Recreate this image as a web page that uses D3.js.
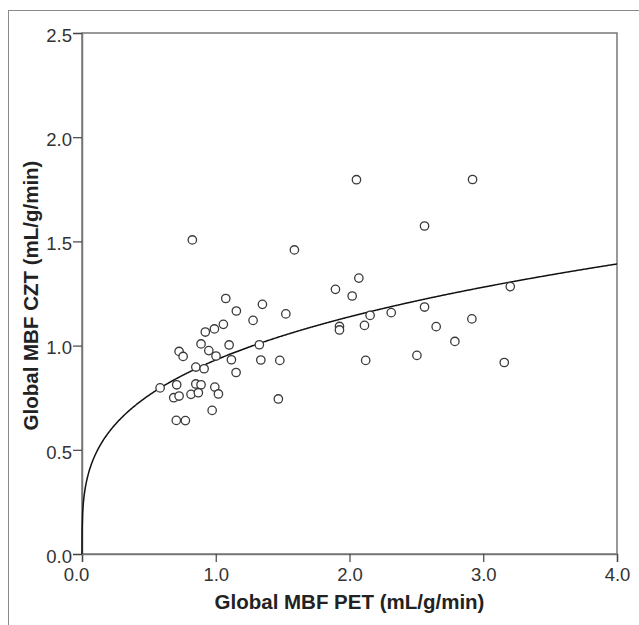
<!DOCTYPE html>
<html>
<head>
<meta charset="utf-8">
<script src="https://cdn.jsdelivr.net/npm/d3@7"></script>
<style>
  body { margin: 0; background: #fff; }
  text { font-family: "Liberation Sans", Arial, sans-serif; }
</style>
</head>
<body>
<div id="chart-area"></div>
<script>
// Global MBF PET (x) vs Global MBF CZT (y)
var petValues = [0.825, 1.588, 1.075, 1.154, 1.349, 1.279, 1.524, 0.922, 0.990, 1.057,
    0.890, 0.948, 1.100, 1.002, 0.726, 0.756, 0.851, 0.913, 1.117, 1.152,
    1.326, 1.337, 1.479, 0.584, 0.708, 0.686, 0.726, 0.815, 0.851, 0.890,
    0.870, 0.993, 1.020, 1.468, 0.973, 0.705, 0.773,
    2.052, 2.920, 2.561, 2.070, 1.895, 2.020, 2.154, 2.312, 2.561, 3.202,
    1.925, 1.925, 2.112, 2.648, 2.915, 2.788, 2.121, 2.504, 3.157];
var cztValues = [1.507, 1.459, 1.226, 1.166, 1.198, 1.121, 1.152, 1.065, 1.080, 1.102,
    1.008, 0.976, 1.003, 0.950, 0.972, 0.948, 0.897, 0.889, 0.932, 0.871,
    1.004, 0.931, 0.929, 0.797, 0.812, 0.750, 0.758, 0.766, 0.816, 0.812,
    0.774, 0.801, 0.768, 0.744, 0.689, 0.641, 0.640,
    1.796, 1.797, 1.574, 1.324, 1.270, 1.238, 1.145, 1.158, 1.185, 1.283,
    1.092, 1.075, 1.097, 1.091, 1.128, 1.020, 0.929, 0.953, 0.919];

// power fit y = a * x^b
var fitA = 0.931;
var fitB = 0.29;

var xTicks = [0, 1, 2, 3, 4];
var yTicks = [0, 0.5, 1, 1.5, 2, 2.5];

var width = 639, height = 625;
var margin = {top: 33, right: 22, bottom: 71, left: 82};
var innerW = width - margin.left - margin.right;
var innerH = height - margin.top - margin.bottom;

var svg = d3.select("#chart-area").append("svg")
    .attr("width", width)
    .attr("height", height);

// outer frame of the figure
svg.append("rect")
    .attr("x", 8.5).attr("y", 10.5)
    .attr("width", 660).attr("height", 640)
    .attr("fill", "none")
    .attr("stroke", "#8a8a8a")
    .attr("stroke-width", 1);

var group = svg.append("g")
    .attr("transform", "translate(" + margin.left + "," + margin.top + ")");

var x = d3.scaleLinear().domain([0, 4]).range([0, innerW]);
var y = d3.scaleLinear().domain([0, 2.5]).range([innerH, 0]);

// plot frame
group.append("rect")
    .attr("x", 0).attr("y", 0)
    .attr("width", innerW).attr("height", innerH)
    .attr("fill", "none")
    .attr("stroke", "#777")
    .attr("stroke-width", 1.5);

var xAxis = group.append("g")
    .attr("transform", "translate(0," + innerH + ")")
    .call(d3.axisBottom(x).tickValues(xTicks).tickFormat(d3.format(".1f")).tickSize(8).tickPadding(6));
var yAxis = group.append("g")
    .call(d3.axisLeft(y).tickValues(yTicks).tickFormat(d3.format(".1f")).tickSize(9).tickPadding(1));

[xAxis, yAxis].forEach(function(ax) {
    ax.select(".domain").attr("stroke", "#777").attr("stroke-width", 1.5);
    ax.selectAll(".tick line").attr("stroke", "#444").attr("stroke-width", 1.2);
    ax.selectAll(".tick text")
        .attr("fill", "#333")
        .style("font-size", "18.5px")
        .style("font-family", "Liberation Sans, Arial, sans-serif");
});
yAxis.selectAll(".tick text").attr("dy", "0.45em");
// first x label sits a little left of its tick
xAxis.selectAll(".tick text").filter(function(d) { return d === 0; }).attr("dx", -6);

// fitted curve
var curveData = d3.range(0, 4.0001, 0.005).map(function(v) { return [v, fitA * Math.pow(v, fitB)]; });
curveData.splice(1, 0, [0.0005, fitA * Math.pow(0.0005, fitB)]);
group.append("path")
    .datum(curveData)
    .attr("fill", "none")
    .attr("stroke", "#111")
    .attr("stroke-width", 1.5)
    .attr("d", d3.line().x(function(d) { return x(d[0]); }).y(function(d) { return y(d[1]); }));

// points
var pts = petValues.map(function(v, i) { return {pet: v, czt: cztValues[i]}; });
group.selectAll("circle.pt").data(pts).enter()
    .append("circle")
    .attr("class", "pt")
    .attr("cx", function(d) { return x(d.pet); })
    .attr("cy", function(d) { return y(d.czt); })
    .attr("r", 4.2)
    .attr("fill", "#fff")
    .attr("stroke", "#3a3a3a")
    .attr("stroke-width", 1.3);

// axis titles
svg.append("text")
    .attr("x", margin.left + innerW / 2)
    .attr("y", 609)
    .attr("text-anchor", "middle")
    .attr("font-weight", "bold")
    .attr("font-size", "20.5px")
    .attr("fill", "#222")
    .text("Global MBF PET (mL/g/min)");

svg.append("text")
    .attr("transform", "translate(38," + (margin.top + innerH / 2 + 2) + ") rotate(-90)")
    .attr("text-anchor", "middle")
    .attr("font-weight", "bold")
    .attr("font-size", "20.5px")
    .attr("fill", "#222")
    .text("Global MBF CZT (mL/g/min)");
</script>
</body>
</html>
